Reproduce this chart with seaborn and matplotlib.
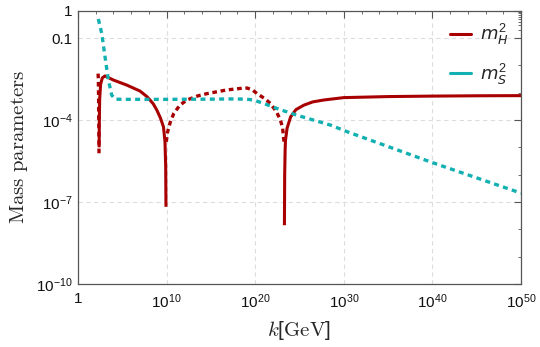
import numpy as np
import pandas as pd
import matplotlib
matplotlib.use("Agg")
import matplotlib.pyplot as plt
import matplotlib.ticker as mticker
from matplotlib.lines import Line2D
import seaborn as sns

# ---------------- data ----------------
# log10(k/GeV) and signed m_H^2
kexp_H = [2.27, 2.30, 2.33, 2.36, 2.375,
          2.39, 2.41, 2.45, 2.55, 2.75, 3.05, 4.0, 5.5, 7.0, 7.8, 8.5, 8.9, 9.3, 9.65, 9.82, 9.9, 9.93,
          9.97, 10.1, 10.4, 10.8, 11.5, 12.3, 13.5, 14.6, 16.8, 18.5, 19.1, 19.7, 20.2, 21.0, 21.7, 22.4,
          22.85, 23.1, 23.25,
          23.3, 23.33, 23.38, 23.42, 23.6, 24.0, 24.6, 25.5, 26.5, 27.75, 30.0, 35.0, 40.0, 45.0, 50.0]
mH2 = [-5.0e-3, -3.0e-3, -5.0e-4, -3.0e-5, -6.0e-6,
       1.0e-5, 1.0e-4, 6.0e-4, 2.0e-3, 3.5e-3, 4.1e-3, 2.9e-3, 1.9e-3, 1.15e-3, 7.1e-4, 3.9e-4,
       2.3e-4, 1.2e-4, 5.6e-5, 1.6e-5, 2.0e-6, 6.6e-8,
       -1.6e-5, -3.5e-5, -8.0e-5, -1.7e-4, -3.5e-4, -5.4e-4, -7.6e-4, -9.3e-4, -1.26e-3, -1.45e-3,
       -1.48e-3, -1.26e-3, -9.3e-4, -6.3e-4, -4.1e-4, -2.0e-4, -1.0e-4, -5.0e-5, -1.6e-5,
       1.4e-8, 1.0e-6, 8.0e-6, 1.8e-5, 5.0e-5, 1.3e-4, 2.4e-4, 3.5e-4, 4.6e-4, 5.4e-4, 6.6e-4,
       7.2e-4, 7.5e-4, 7.7e-4, 7.8e-4]

kexp_S = [2.30, 2.68, 3.05, 3.43, 3.81, 4.19, 5.0, 10.0, 15.0, 17.2, 19.0, 19.8, 21.0, 22.5,
          24.7, 28.5, 30.4, 40.0, 50.0]
mS2 = [0.50, 0.148, 2.1e-2, 2.9e-3, 8.1e-4, 5.8e-4, 5.7e-4, 5.7e-4, 5.8e-4, 5.9e-4, 5.8e-4,
       5.4e-4, 4.0e-4, 2.6e-4, 1.5e-4, 6.5e-5, 3.7e-5, 2.75e-6, 2.1e-7]

series_labels = [r"$\mathit{m}_{\mathit{H}}^{2}$", r"$\mathit{m}_{\mathit{S}}^{2}$"]
xtick_exp = [0, 10, 20, 30, 40, 50]
ytick_exp = [0, -1, -4, -7, -10]

# ---------------- styling ----------------
sns.set_style("white")
plt.rcParams["font.family"] = ["Liberation Sans", "DejaVu Sans"]
plt.rcParams["mathtext.fontset"] = "custom"
plt.rcParams["mathtext.rm"] = "Liberation Sans"
plt.rcParams["mathtext.it"] = "Liberation Sans:italic"
plt.rcParams["mathtext.default"] = "regular"

RED = "#A80000"
TEAL = "#12B0B0"

fig = plt.figure(figsize=(5.40, 3.47), dpi=100)
ax = fig.add_axes([0.1444, 0.182, 0.8204, 0.787])

# build m_H^2 segments split by sign
kH = 10.0 ** np.array(kexp_H)
vH = np.array(mH2)
sign = np.sign(vH)
seg_id = np.concatenate([[0], np.cumsum(sign[1:] != sign[:-1])])
dfH = pd.DataFrame({"k": kH, "m": np.abs(vH), "pos": sign > 0, "seg": seg_id})

dotted = (0, (1.4, 1.1))
for s, d in dfH.groupby("seg"):
    pos = d["pos"].iloc[0]
    sns.lineplot(data=d, x="k", y="m", ax=ax, color=RED, lw=2.2 if pos else 2.4,
                 sort=False, estimator=None,
                 linestyle="-" if pos else dotted,
                 solid_capstyle="butt", dash_capstyle="butt")

dfS = pd.DataFrame({"k": 10.0 ** np.array(kexp_S), "m": mS2})
sns.lineplot(data=dfS, x="k", y="m", ax=ax, color=TEAL, lw=2.4, sort=False, estimator=None,
             linestyle=(0, (1.5, 1.3)), dash_capstyle="butt")

ax.set_xscale("log")
ax.set_yscale("log")
ax.set_xlim(1, 1e50)
ax.set_ylim(1e-10, 1)

# ticks
ax.xaxis.set_major_locator(mticker.FixedLocator([10.0 ** e for e in xtick_exp]))
ax.xaxis.set_minor_locator(mticker.FixedLocator([10.0 ** e for e in range(0, 51, 2) if e % 10]))
ax.xaxis.set_major_formatter(mticker.FixedFormatter(
    ["1" if e == 0 else r"$10^{%d}$" % e for e in xtick_exp]))
ax.xaxis.set_minor_formatter(mticker.NullFormatter())

ymaj = [10.0 ** e for e in ytick_exp]
ax.yaxis.set_major_locator(mticker.FixedLocator(ymaj))
yminor = [10.0 ** e for e in range(-9, -1) if e not in ytick_exp] + [m * 0.1 for m in range(2, 10)]
ax.yaxis.set_minor_locator(mticker.FixedLocator(yminor))
ax.yaxis.set_major_formatter(mticker.FixedFormatter(
    [("1" if e == 0 else ("0.1" if e == -1 else r"$10^{%d}$" % e)) for e in ytick_exp]))
ax.yaxis.set_minor_formatter(mticker.NullFormatter())

ax.tick_params(which="both", direction="in", top=True, right=True, color="#555555",
               labelsize=11, labelcolor="#111111")
ax.tick_params(which="major", length=5, width=0.8)
ax.tick_params(which="minor", length=2.5, width=0.6)
ax.tick_params(axis="x", pad=6)
ax.tick_params(axis="y", pad=4)

for sp in ax.spines.values():
    sp.set_color("#555555")
    sp.set_linewidth(0.9)

ax.grid(True, which="major", color="#DDDDDD", linestyle=(0, (4, 3)), linewidth=0.8)
ax.set_axisbelow(True)

ax.set_xlabel(r"$\mathit{k}[\mathrm{GeV}]$", fontsize=15, math_fontfamily="cm", labelpad=6)
ax.set_ylabel(r"$\mathrm{Mass\ parameters}$", fontsize=15, math_fontfamily="cm", labelpad=4)

handles = [Line2D([], [], color=RED, lw=2.2), Line2D([], [], color=TEAL, lw=2.2)]
leg = ax.legend(handles, series_labels, loc="upper right", frameon=False, fontsize=13,
                handlelength=1.15, handletextpad=0.5, labelspacing=0.8,
                bbox_to_anchor=(1.0, 1.005), borderaxespad=0.3)
for t in leg.get_texts():
    t.set_math_fontfamily("dejavusans")

fig.savefig("out.png", dpi=100)
